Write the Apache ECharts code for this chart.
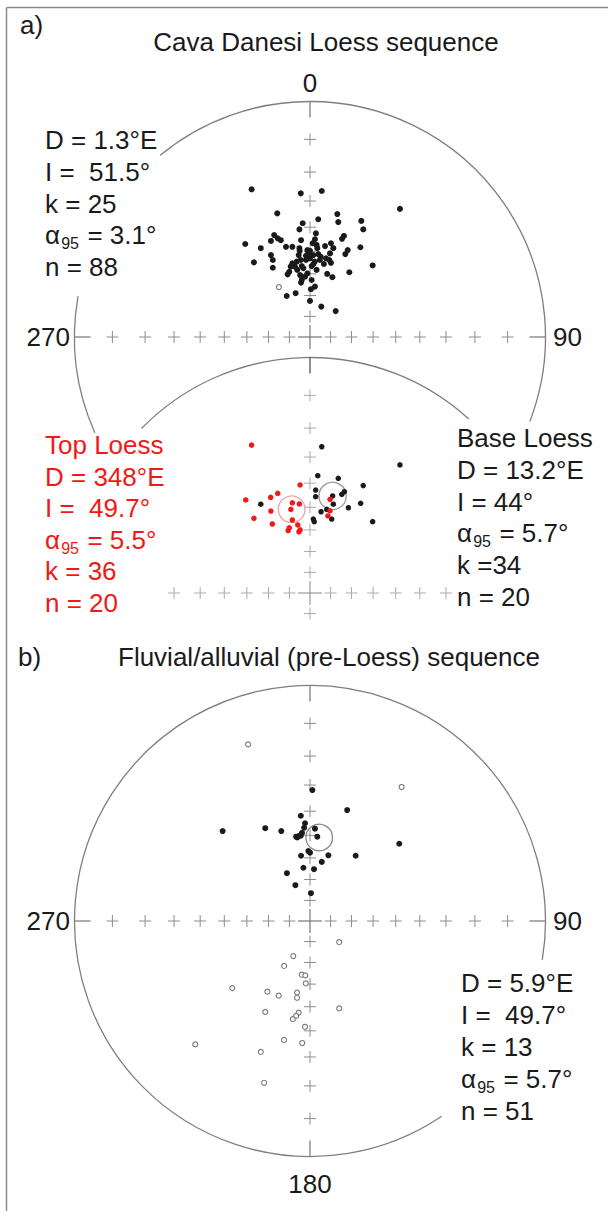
<!DOCTYPE html>
<html><head><meta charset="utf-8">
<script src="https://cdn.jsdelivr.net/npm/echarts@6/dist/echarts.min.js"></script>
<style>html,body{margin:0;padding:0;background:#fff}#c{width:608px;height:1211px}</style>
</head><body><div id="c"></div>
<script>
// ---- DATA: projected directions (x = east, y = north, in % of net radius, Wulff net) ----
const cavaLoessDown = [[-24.8,62.7],[-3.9,61.0],[5.0,62.0],[38.2,54.4],[-13.9,52.5],[11.6,52.2],[3.5,50.0],[12.0,48.8],[21.8,49.3],[22.6,45.7],
[-3.1,48.3],[-4.5,45.7],[-15.2,43.3],[-13.7,41.9],[-12.4,41.1],[-16.6,40.8],[-27.5,39.5],[2.5,44.0],[-3.8,41.1],[2.1,41.5],
[14.4,42.9],[13.6,41.7],[-20.9,37.7],[-10.2,38.3],[-7.5,38.3],[-4.5,37.7],[-4.4,36.6],[-1.1,36.9],[0,36.6],[2.8,39.1],
[3.1,37.7],[1.4,34.8],[3.5,35.2],[6.4,38.6],[8.9,39.8],[9.9,37.7],[8.5,35.5],[16.0,36.9],[15.0,35.2],[21.4,38.1],
[-16.6,34.8],[-15.8,32.7],[-23.8,31.7],[-15.8,29.4],[-3.9,32.7],[-1.7,32.7],[0,33.4],[2.0,32.0],[4.5,34.1],[5.9,31.0],
[8.2,32.7],[8.9,31.5],[-7.5,31.3],[-6.4,29.9],[-8.8,27.7],[-9.5,26.6],[-5.4,28.5],[-3.5,30.1],[-2.8,29.2],[0.7,30.1],
[1.4,30.9],[-4.2,26.3],[-3.5,24.2],[-3.8,23.1],[0.7,24.2],[7.3,26.8],[9.5,25.4],[16.7,27.5],[26.6,30.4],[0.4,20.3],
[2.1,21.4],[-9.9,17.4],[-6.1,18.6],[0,15.3],[4.8,12.9],[10.9,11.0],[-0.7,35.5],[-5.6,32.0],[-1.7,34.5],[4.2,32.7],
[-8.2,29.9],[6.8,33.4],[2.8,28.5],[-1.1,27.0],[-4.8,34.8],[1.1,39.8],[-2.1,25.6]];
const cavaLoessUp = [[-13.2,21.2]];

const topLoess = [[-24.8,62.8],[-4.2,45.9],[-13.7,42.3],[-16.7,40.6],[-27.3,39.5],[-7.5,38.3],[-4.5,37.8],[-16.6,34.8],[-8.1,35.5],[-23.8,31.7],
[-16.0,29.3],[-7.5,31.0],[-5.2,28.9],[-4.2,26.8],[-8.8,27.7],[-9.3,26.5],[8.5,39.8],[8.5,34.9],[7.6,32.7],[-4.7,26.0]];
const baseLoess = [[5.0,62.1],[38.2,54.4],[3.3,49.8],[12.0,48.7],[22.6,45.6],[2.4,43.7],[14.6,43.0],[13.5,41.9],[2.4,40.9],[-20.9,37.7],
[9.9,37.7],[21.5,38.1],[16.3,36.2],[7.1,35.5],[4.7,34.5],[9.2,31.4],[1.4,31.4],[1.8,30.3],[26.6,30.3],[9.6,41.2]];
const topLoessMean = [[-7.8,36.0,5.65]];   // x, y, alpha95 radius
const baseLoessMean = [[9.6,41.2,5.8]];

const fluvialDown = [[1.0,55.6],[15.8,47.1],[-3.9,44.7],[-2.1,41.5],[-2.5,39.6],[2.1,39.2],[-37.1,38.2],[-19.0,39.4],[-12.2,38.2],[-5.9,35.8],
[-4.8,36.1],[-3.9,36.2],[-5.4,35.5],[3.1,35.8],[37.9,32.8],[-0.7,29.7],[0,29.0],[-3.8,27.7],[7.8,27.9],[19.4,27.7],
[5.0,25.1],[-2.8,22.6],[1.7,22.0],[-9.8,20.3],[-6.2,15.2],[0.4,11.8],[-3.4,37.4]];
const fluvialUp = [[-26.3,75.0],[38.9,56.9],[12.4,-9.0],[-7.1,-14.9],[-11.0,-19.1],[-3.5,-22.8],[-2.0,-23.1],[-1.8,-26.5],[-33.0,-28.5],[-18.1,-30.0],
[-13.3,-31.7],[-5.5,-30.4],[-5.5,-32.6],[12.4,-37.1],[-19.0,-38.6],[-4.8,-38.9],[-5.9,-40.3],[-7.3,-41.7],[-2.1,-44.9],[-11.0,-50.5],
[-3.3,-51.8],[-48.7,-52.4],[-20.9,-55.6],[-19.5,-68.7]];
const fluvialMean = [[3.9,35.8,5.65]];

// tick inclinations along the net diameters (every 10 degrees)
const tickAngles = [10,20,30,40,50,60,70,80];
const compassA = ['0','90','270'];
const compassB = ['90','180','270'];

// statistics text
const titleA = 'Cava Danesi Loess sequence';
const titleB = 'Fluvial/alluvial (pre-Loess) sequence';
const statsA = ['D = 1.3°E','I =  51.5°','k = 25',['α','95',' = 3.1°'],'n = 88'];
const statsTop = ['Top Loess','D = 348°E','I =  49.7°',['α','95',' = 5.5°'],'k = 36','n = 20'];
const statsBase = ['Base Loess','D = 13.2°E','I = 44°',['α','95',' = 5.7°'],'k =34','n = 20'];
const statsB = ['D = 5.9°E','I =  49.7°','k = 13',['α','95',' = 5.7°'],'n = 51'];

// ---- LAYOUT ----
const FONT = '"Liberation Sans", Arial, Helvetica, sans-serif';
const FS = 26, SUB = 16, SUBDY = 8.5;
const INK = '#1a1a1a', RED = '#f21818';
const NETS = [ {left:74.5, top:101.5}, {left:74.5, top:357.5}, {left:74.5, top:685.5} ];
const SIZE = 471;

const ctx = document.createElement('canvas').getContext('2d');
function tw(s, size){ ctx.font = size + 'px ' + FONT; return ctx.measureText(s).width; }
function textEl(s, x, y, size, color, align){
  return {type:'text', silent:true, z:100, style:{text:s, x:x, y:y, fill:color, font:size+'px '+FONT,
    textAlign:align||'left', textVerticalAlign:'middle', align:align||'left', verticalAlign:'middle'}};
}
function block(lines, x, y0, step, color){
  const els = [];
  lines.forEach((ln,i)=>{
    const y = y0 + i*step;
    if (Array.isArray(ln)) {
      els.push(textEl(ln[0], x, y, FS, color));
      const w0 = tw(ln[0], FS);
      els.push(textEl(ln[1], x + w0 + 1.2, y + SUBDY, SUB, color));
      const w1 = tw(ln[1], SUB);
      els.push(textEl(ln[2], x + w0 + w1 + 2.4, y, FS, color));
    } else els.push(textEl(ln, x, y, FS, color));
  });
  return els;
}

const stereo = a => 100*Math.tan(a/2*Math.PI/180);
function crossData(dirs){
  const out = [];
  (dirs.n||[]).forEach(a=>out.push([0, stereo(a)]));
  (dirs.s||[]).forEach(a=>out.push([0, -stereo(a)]));
  (dirs.e||[]).forEach(a=>out.push([stereo(a), 0]));
  (dirs.w||[]).forEach(a=>out.push([-stereo(a), 0]));
  return out;
}
const TICK = 6.8; // edge tick length (% of radius)
const edgeDefs = {n:[0,100,0,100-TICK], s:[0,-100,0,-100+TICK], e:[100,0,100-TICK,0], w:[-100,0,-100+TICK,0]};

function arcSeries(i, arcs, color){
  return {type:'custom', xAxisIndex:i, yAxisIndex:i, silent:true, z:1, data:arcs,
    renderItem:(p, api)=>{
      const c = api.coord([0,0]); const r = api.coord([100,0])[0]-c[0];
      return {type:'arc', shape:{cx:c[0], cy:c[1], r:r, startAngle:api.value(0)*Math.PI/180, endAngle:api.value(1)*Math.PI/180, clockwise:true},
        style:{stroke:color, fill:null, lineWidth:1.3}};
    }};
}
function crossSeries(i, data, half, color, lw){
  return {type:'custom', xAxisIndex:i, yAxisIndex:i, silent:true, z:2, data:data,
    renderItem:(p, api)=>{
      const c = api.coord([api.value(0), api.value(1)]);
      return {type:'group', children:[
        {type:'line', shape:{x1:c[0]-half, y1:c[1], x2:c[0]+half, y2:c[1]}, style:{stroke:color, lineWidth:lw}},
        {type:'line', shape:{x1:c[0], y1:c[1]-half, x2:c[0], y2:c[1]+half}, style:{stroke:color, lineWidth:lw}}]};
    }};
}
function edgeSeries(i, keys, color){
  return {type:'custom', xAxisIndex:i, yAxisIndex:i, silent:true, z:2, data:keys.map(k=>edgeDefs[k]),
    renderItem:(p, api)=>{
      const a = api.coord([api.value(0), api.value(1)]), b = api.coord([api.value(2), api.value(3)]);
      return {type:'line', shape:{x1:a[0], y1:a[1], x2:b[0], y2:b[1]}, style:{stroke:color, lineWidth:1.3}};
    }};
}
function circleSeries(i, data, color){
  return {type:'custom', xAxisIndex:i, yAxisIndex:i, silent:true, z:3, data:data,
    renderItem:(p, api)=>{
      const c = api.coord([api.value(0), api.value(1)]);
      const r = api.coord([api.value(0)+api.value(2), api.value(1)])[0]-c[0];
      return {type:'circle', shape:{cx:c[0], cy:c[1], r:r}, style:{stroke:color, fill:null, lineWidth:1.3}};
    }};
}
function dots(i, data, color, size){
  return {type:'scatter', xAxisIndex:i, yAxisIndex:i, silent:true, z:5, data:data, symbol:'circle', symbolSize:size,
    itemStyle:{color:color, opacity:1}};
}
function rings(i, data, color, size){
  return {type:'scatter', xAxisIndex:i, yAxisIndex:i, silent:true, z:5, data:data, symbol:'circle', symbolSize:size,
    itemStyle:{color:'#fff', borderColor:color, borderWidth:1.1, opacity:1}};
}

const GRAY = '#8c8c8c', LIGHT = '#ababab', ARC = '#7f7f7f';
const option = {
  animation:false, backgroundColor:'#fff',
  grid: NETS.map(n=>({left:n.left, top:n.top, width:SIZE, height:SIZE})),
  xAxis: NETS.map((n,i)=>({gridIndex:i, type:'value', min:-100, max:100, show:false})),
  yAxis: NETS.map((n,i)=>({gridIndex:i, type:'value', min:-100, max:100, show:false})),
  series: [
    // net a (upper)
    arcSeries(0, [[-90,21],[156,190],[230.5,270]], ARC),
    crossSeries(0, crossData({n:tickAngles, e:tickAngles, w:tickAngles}), 6, GRAY, 1),
    crossSeries(0, [[0,0]], 12, '#777', 1.2),
    edgeSeries(0, ['n','e','w'], ARC),
    dots(0, cavaLoessDown, INK, 6),
    rings(0, cavaLoessUp, '#777', 5),
    // net a (lower: top / base loess)
    arcSeries(1, [[224.3,312.4]], ARC),
    crossSeries(1, crossData({n:tickAngles, s:[10], e:tickAngles.slice(0,6), w:tickAngles.slice(0,6)}), 6, LIGHT, 1),
    crossSeries(1, [[0,0]], 12, '#999', 1.2),
    edgeSeries(1, ['n'], '#555'),
    circleSeries(1, topLoessMean, '#f5a0a0'),
    circleSeries(1, baseLoessMean, '#9a9a9a'),
    dots(1, baseLoess, INK, 5.5),
    dots(1, topLoess, RED, 5.5),
    // net b
    arcSeries(2, [[56,369.5]], ARC),
    crossSeries(2, crossData({n:tickAngles, s:tickAngles, e:tickAngles, w:tickAngles}), 6, GRAY, 1),
    crossSeries(2, [[0,0]], 12, '#777', 1.2),
    edgeSeries(2, ['n','s','e','w'], ARC),
    circleSeries(2, fluvialMean, '#8a8a8a'),
    dots(2, fluvialDown, INK, 6),
    rings(2, fluvialUp, '#777', 5)
  ],
  graphic: [
    {type:'line', silent:true, shape:{x1:6.5, y1:7.5, x2:608, y2:7.5}, style:{stroke:'#8a8a8a', lineWidth:1.5}},
    {type:'line', silent:true, shape:{x1:6.5, y1:7.5, x2:6.5, y2:1211}, style:{stroke:'#8a8a8a', lineWidth:1.5}},
    textEl('a)', 20, 25, FS, INK),
    textEl(titleA, 326, 42, FS, INK, 'center'),
    textEl(compassA[0], 310, 83, FS, INK, 'center'),
    textEl(compassA[2], 70, 337, FS, INK, 'right'),
    textEl(compassA[1], 553, 337, FS, INK, 'left'),
    ...block(statsA, 45, 140, 31.75, INK),
    ...block(statsTop, 45, 445, 31.6, RED),
    ...block(statsBase, 457, 438, 31.75, INK),
    textEl('b)', 18, 657, FS, INK),
    textEl(titleB, 329, 657, FS, INK, 'center'),
    textEl(compassB[2], 70, 921, FS, INK, 'right'),
    textEl(compassB[0], 553, 921, FS, INK, 'left'),
    textEl(compassB[1], 310, 1184, FS, INK, 'center'),
    ...block(statsB, 461, 983, 31.9, INK)
  ]
};
const chart = echarts.init(document.getElementById('c'), null, {renderer:'svg', width:608, height:1211});
chart.setOption(option);
</script></body></html>
